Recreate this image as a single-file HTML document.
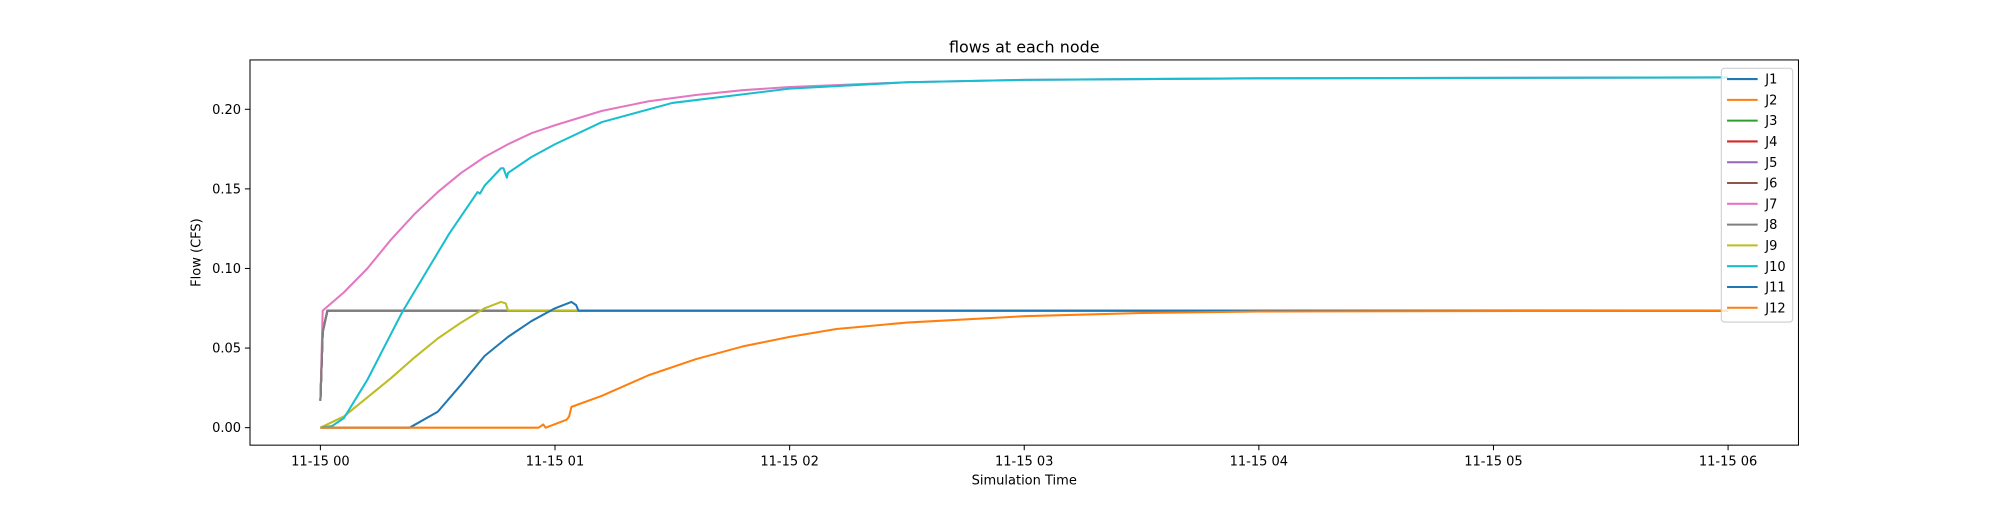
<!DOCTYPE html>
<html><head><meta charset="utf-8"><style>
body{margin:0;background:#fff;font-family:"Liberation Sans","DejaVu Sans",sans-serif}
svg text{font-family:"DejaVu Sans","Liberation Sans",sans-serif;font-size:10.2px;fill:#000}
</style></head><body>
<svg id="chart" width="2000" height="500" viewBox="0 0 1568 392" preserveAspectRatio="none">
<rect width="1568" height="392" fill="#fff"/>
<text x="803" y="41" text-anchor="middle" style="font-size:12.5px">flows at each node</text>
<g id="plot"></g>
<g id="axes"></g>
<text x="803" y="380" text-anchor="middle">Simulation Time</text>
<text transform="translate(157,198) rotate(-90)" text-anchor="middle">Flow (CFS)</text>
<g id="legend"></g>
</svg>
<script>
const seriesNames=["J1","J2","J3","J4","J5","J6","J7","J8","J9","J10","J11","J12"];
const colors=["#1f77b4","#ff7f0e","#2ca02c","#d62728","#9467bd","#8c564b","#e377c2","#7f7f7f","#bcbd22","#17becf","#1f77b4","#ff7f0e"];
const constT=[0,0.01,0.03,6];
const constV=[0.017,0.06,0.0735,0.0735];
const j7T=[0,0.01,0.1,0.2,0.3,0.4,0.5,0.6,0.7,0.8,0.9,1.0,1.2,1.4,1.6,1.8,2.0,2.5,3.0,4.0,6.0];
const j7V=[0.017,0.0735,0.085,0.1,0.118,0.134,0.148,0.16,0.17,0.178,0.185,0.19,0.199,0.205,0.209,0.212,0.214,0.217,0.2185,0.2195,0.22];
const j9T=[0,0.1,0.2,0.3,0.4,0.5,0.6,0.7,0.77,0.79,0.8,6.0];
const j9V=[0,0.007,0.019,0.031,0.044,0.056,0.066,0.075,0.079,0.078,0.0735,0.0735];
const j10T=[0,0.05,0.1,0.2,0.27,0.35,0.46,0.55,0.67,0.68,0.7,0.77,0.78,0.795,0.8,0.9,1.0,1.2,1.5,2.0,2.5,3.0,4.0,6.0];
const j10V=[0,0.001,0.006,0.03,0.05,0.073,0.1,0.122,0.148,0.147,0.152,0.163,0.163,0.157,0.16,0.17,0.178,0.192,0.204,0.213,0.217,0.2185,0.2195,0.22];
const j11T=[0,0.38,0.5,0.6,0.7,0.8,0.9,1.0,1.07,1.09,1.1,6.0];
const j11V=[0,0,0.01,0.027,0.045,0.057,0.067,0.075,0.079,0.077,0.0735,0.0735];
const j12T=[0,0.93,0.95,0.96,1.05,1.06,1.07,1.2,1.4,1.6,1.8,2.0,2.2,2.5,3.0,3.5,4.0,6.0];
const j12V=[0,0,0.002,0,0.005,0.007,0.013,0.02,0.033,0.043,0.051,0.057,0.062,0.066,0.070,0.072,0.073,0.0735];
const yTicks=[0,0.05,0.1,0.15,0.2];
const yTickLabels=["0.00","0.05","0.10","0.15","0.20"];
const xTicks=[0,1,2,3,4,5,6];
const xTickLabels=["11-15 00","11-15 01","11-15 02","11-15 03","11-15 04","11-15 05","11-15 06"];

const L=196,R=1410,T=47,B=349;
const xMin=-0.3,xMax=6.3,yMin=-0.011,yMax=0.231;
const xs=t=>L+(t-xMin)/(xMax-xMin)*(R-L);
const ys=v=>B-(v-yMin)/(yMax-yMin)*(B-T);
const NS="http://www.w3.org/2000/svg";
const plot=document.getElementById('plot'),axes=document.getElementById('axes'),legend=document.getElementById('legend');
function mk(tag,attrs,parent){const e=document.createElementNS(NS,tag);for(const k in attrs)e.setAttribute(k,attrs[k]);parent.appendChild(e);return e;}
const data=[[constT,constV],[constT,constV],[constT,constV],[constT,constV],[constT,constV],[constT,constV],[j7T,j7V],[constT,constV],[j9T,j9V],[j10T,j10V],[j11T,j11V],[j12T,j12V]];
data.forEach((d,i)=>{
  const pts=d[0].map((t,k)=>xs(t).toFixed(1)+","+ys(d[1][k]).toFixed(1)).join(" ");
  const p=mk('polyline',{points:pts,fill:'none',stroke:colors[i],'stroke-width':1.6,'stroke-linejoin':'round'},plot);
  
  
});
const frame=mk('rect',{x:L,y:T,width:R-L,height:B-T,fill:'none',stroke:'#000','stroke-width':0.8},axes);


yTicks.forEach((v,i)=>{
  const y=ys(v);
  const tk=mk('line',{x1:L-4,x2:L,y1:y,y2:y,stroke:'#000','stroke-width':0.8},axes);
  
  
  const tx=mk('text',{x:L-7,y:y+3.6,'text-anchor':'end'},axes);tx.textContent=yTickLabels[i];
  
  
});
xTicks.forEach((t,i)=>{
  const x=xs(t);
  const tk=mk('line',{x1:x,x2:x,y1:B,y2:B+4,stroke:'#000','stroke-width':0.8},axes);
  
  
  const tx=mk('text',{x:x,y:B+16,'text-anchor':'middle'},axes);tx.textContent=xTickLabels[i];
  
  
});
const lb=mk('rect',{x:1349.5,y:53.5,width:56,height:199,rx:2.5,fill:'#fff','fill-opacity':0.8,stroke:'#ccc','stroke-width':0.8},legend);


seriesNames.forEach((n,i)=>{
  const y=62+i*16.3;
  const ln=mk('line',{x1:1354,x2:1378,y1:y,y2:y,stroke:colors[i],'stroke-width':1.6},legend);
  
  
  const tx=mk('text',{x:1384,y:y+3.6},legend);tx.textContent=n;
  
  
});
</script>
</body></html>
